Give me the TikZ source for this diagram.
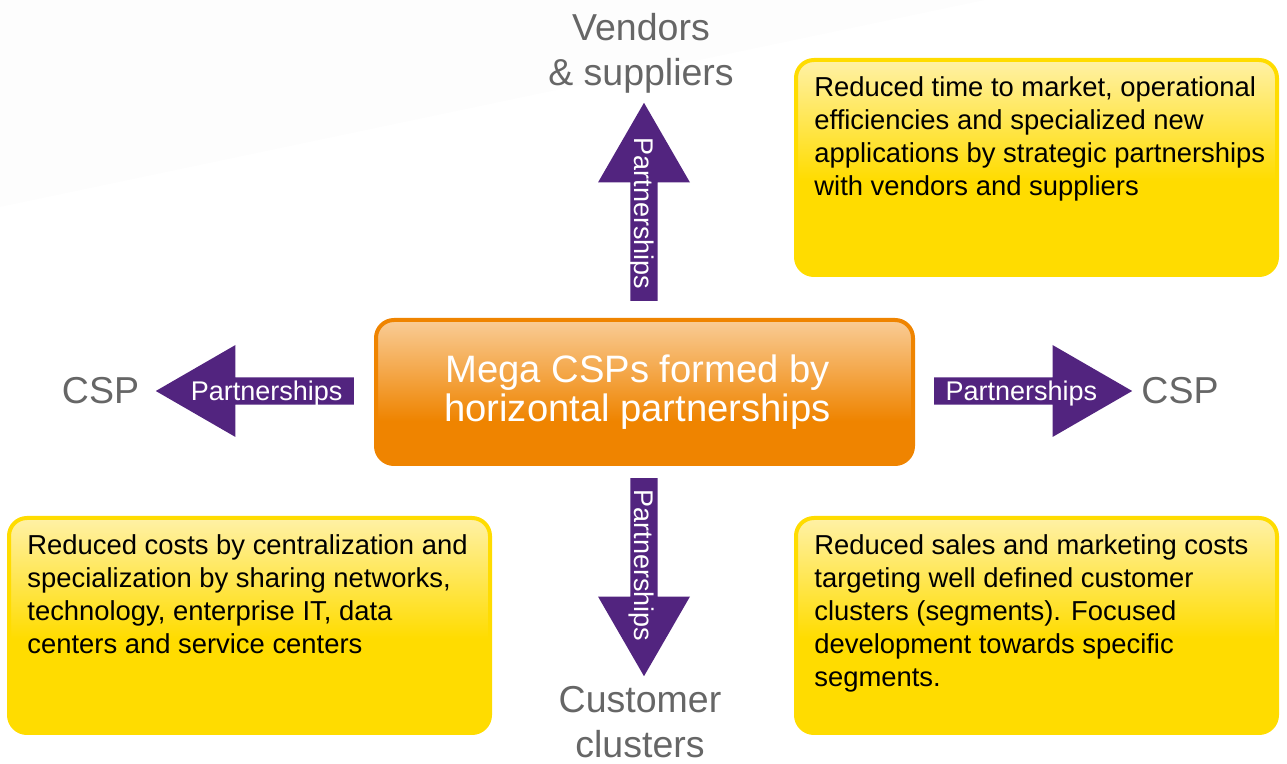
\documentclass[tikz,border=0pt]{standalone}
\usepackage{fontspec}
\setmainfont{Liberation Sans}
\usetikzlibrary{shapes.arrows,positioning}

\definecolor{cspurple}{HTML}{52247F}
\definecolor{csorange}{HTML}{EF8400}
\definecolor{csorangelt}{HTML}{F9CC96}
\definecolor{csyellow}{HTML}{FFDC00}
\definecolor{csyellowlt}{HTML}{FFF1A6}
\definecolor{csgray}{HTML}{666666}
\definecolor{csshade}{HTML}{FDFDFD}

% Fills for the boxes (path is fitted to 25bp..75bp).
\pgfdeclareverticalshading{hubfill}{100bp}{color(0bp)=(csorange); color(40bp)=(csorange);
    color(75bp)=(csorangelt); color(100bp)=(csorangelt)}
\pgfdeclareverticalshading{notefill}{100bp}{color(0bp)=(csyellow); color(47bp)=(csyellow);
    color(75bp)=(csyellowlt); color(100bp)=(csyellowlt)}

\tikzset{
    hub/.style={draw=csorange, line width=2pt, rounded corners=9pt,
        shading=hubfill, minimum width=268.5pt, minimum height=72pt,
        text=white, align=center, font=\fontsize{19.1}{19.5}\selectfont},
    note/.style={draw=csyellow, line width=2pt, rounded corners=9pt,
        shading=notefill, minimum width=240.5pt, minimum height=107.5pt},
    notetext/.style={inner sep=0pt, align=left,
        font=\fontsize{13.7}{16.5}\selectfont},
    partner/.style={single arrow, fill=cspurple, text=white, inner sep=0pt,
        text depth=0pt, minimum width=46pt, minimum height=99pt,
        single arrow head extend=12pt, single arrow tip angle=60,
        font=\fontsize{13.5}{16}\selectfont},
    party/.style={text=csgray, inner sep=0pt, align=center,
        font=\fontsize{18.75}{22.5}\selectfont}
}

\begin{document}
\begin{tikzpicture}[x=0.5pt,y=-0.5pt]

\useasboundingbox (0,0) rectangle (1287,764);

% Faint wedge in the upper left corner.
\fill[csshade] (0,0) -- (985,0) -- (0,207) -- cycle;

% Centre box.
\node[hub] (hub) at (644.5,392)
    {\hspace*{-7pt}Mega CSPs formed by\\\hspace*{-7pt}horizontal partnerships};

% Partnership arrows, placed by their tips.
\node[partner, anchor=tip, rotate=-90, shape border rotate=180]
    (vendarrow) at (644,102) {Partnerships};
\node[partner, anchor=tip, rotate=-90]
    (custarrow) at (644,677) {Partnerships};
\node[partner, anchor=tip, shape border rotate=180]
    (westarrow) at (155,391) {Partnerships};
\node[partner, anchor=tip]
    (eastarrow) at (1133,391) {Partnerships};

% Partners at the arrow ends.
\node[party] (vendors) at (641,53) {Vendors\\\& suppliers};
\node[party] (customers) at (640,722) {Customer\\clusters};
\node[party] (westcsp) at (100.5,390.5) {CSP};
\node[party] (eastcsp) at (1180,390.5) {CSP};

% Yellow notes with the gains.
\node[note] (vendbox) at (1036.5,167.5) {};
\node[notetext, below right=9pt and 10pt of vendbox.north west] (vendtext)
    {Reduced time to market, operational\\
     efficiencies and specialized new\\
     applications by strategic partnerships\\
     with vendors and suppliers};

\node[note] (costbox) at (249.5,625.5) {};
\node[notetext, below right=9pt and 10pt of costbox.north west] (costtext)
    {Reduced costs by centralization and\\
     specialization by sharing networks,\\
     technology, enterprise IT, data\\
     centers and service centers};

\node[note] (salesbox) at (1036.5,625.5) {};
\node[notetext, below right=9pt and 10pt of salesbox.north west] (salestext)
    {Reduced sales and marketing costs\\
     targeting well defined customer\\
     clusters (segments). Focused\\
     development towards specific\\
     segments.};

\end{tikzpicture}
\end{document}
